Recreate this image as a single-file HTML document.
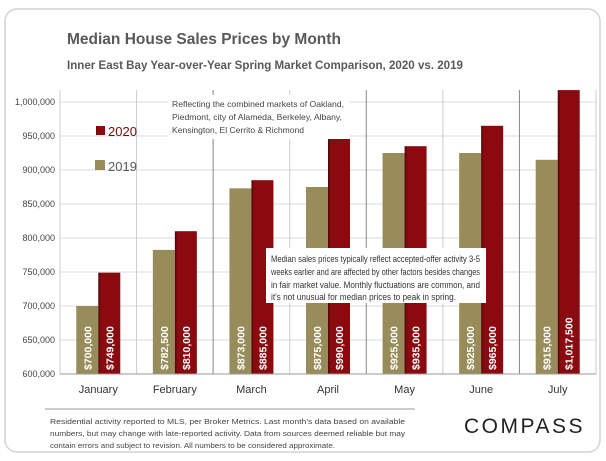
<!DOCTYPE html>
<html><head><meta charset="utf-8"><style>
body{margin:0;background:#fff;width:606px;height:456px;overflow:hidden;font-family:"Liberation Sans",sans-serif}
svg text{font-family:"Liberation Sans",sans-serif}
</style></head><body>
<svg id="c" width="606" height="456" xmlns="http://www.w3.org/2000/svg">
<defs>
<linearGradient id="g20" x1="0" x2="1"><stop offset="0" stop-color="#4a0508"/><stop offset="0.12" stop-color="#8a0a10"/><stop offset="1" stop-color="#8a0a10"/></linearGradient>
</defs>
<rect x="5" y="9" width="595" height="443" rx="12" fill="#fff" stroke="#d4d4d4" stroke-width="1.5"/>
<text x="67" y="44" font-size="15.5" font-weight="bold" fill="#595959">Median House Sales Prices by Month</text>
<text x="67" y="69" font-size="11.5" font-weight="bold" fill="#595959" textLength="396" lengthAdjust="spacingAndGlyphs">Inner East Bay Year-over-Year  Spring Market Comparison,  2020 vs. 2019</text>
<g id="grid"></g>
<g id="bars"></g>
<g id="axis"></g>
<g>
<rect x="96" y="126" width="9" height="9" fill="url(#g20)"/>
<text x="108" y="136" font-size="13" fill="#7a0a0e">2020</text>
<rect x="95" y="160" width="10" height="10" fill="#978c5a"/>
<text x="108" y="171" font-size="13" fill="#595959">2019</text>
</g>
<g font-size="8.5" fill="#444" lengthAdjust="spacingAndGlyphs">
<rect x="168" y="95" width="182" height="44" fill="#fff"/>
<text x="172" y="107" textLength="172" lengthAdjust="spacingAndGlyphs">Reflecting the combined markets of Oakland,</text>
<text x="172" y="120" textLength="170" lengthAdjust="spacingAndGlyphs">Piedmont, city of Alameda, Berkeley, Albany,</text>
<text x="172" y="133" textLength="132" lengthAdjust="spacingAndGlyphs">Kensington, El Cerrito &amp; Richmond</text>
</g>
<g font-size="9" fill="#333">
<rect x="266" y="248" width="220" height="55" fill="#fff"/>
<text x="271" y="262" textLength="209" lengthAdjust="spacingAndGlyphs">Median sales prices typically reflect accepted-offer activity 3-5</text>
<text x="271" y="275" textLength="209" lengthAdjust="spacingAndGlyphs">weeks earlier and are affected by other factors besides changes</text>
<text x="271" y="288" textLength="209" lengthAdjust="spacingAndGlyphs">in fair market value. Monthly fluctuations are common, and</text>
<text x="271" y="300" textLength="185" lengthAdjust="spacingAndGlyphs">it's not unusual for median prices to peak in spring.</text>
</g>
<line x1="45" y1="409" x2="415" y2="409" stroke="#999"/>
<g font-size="7.4" fill="#444">
<text x="50" y="424" textLength="355" lengthAdjust="spacingAndGlyphs">Residential activity reported to MLS, per Broker Metrics. Last month's data based on available</text>
<text x="50" y="436" textLength="355" lengthAdjust="spacingAndGlyphs">numbers, but may change with late-reported activity. Data from sources deemed reliable but may</text>
<text x="50" y="448" textLength="285" lengthAdjust="spacingAndGlyphs">contain errors and subject to revision. All numbers to be considered approximate.</text>
</g>
<text x="464" y="433" font-size="21" letter-spacing="2.5" fill="#222">COMPASS</text>
</svg>
<script>
const months=["January","February","March","April","May","June","July"];
const values2019=[700000,782500,873000,875000,925000,925000,915000];
const values2020=[749000,810000,885000,953000,935000,965000,1017500];
const labels2019=["$700,000","$782,500","$873,000","$875,000","$925,000","$925,000","$915,000"];
const labels2020=["$749,000","$810,000","$885,000","$990,000","$935,000","$965,000","$1,017,500"];
const yTicks=[600000,650000,700000,750000,800000,850000,900000,950000,1000000];
const NS="http://www.w3.org/2000/svg";
const X0=60,X1=596,Y0=374,Y1=102,VMIN=600000,VMAX=1000000;
const cw=(X1-X0)/months.length;
function y(v){return Y0-(v-VMIN)*(Y0-Y1)/(VMAX-VMIN);}
function xc(i){return X0+cw*i+cw/2;}
function mk(tag,attrs,parent){const e=document.createElementNS(NS,tag);for(const k in attrs)e.setAttribute(k,attrs[k]);parent.appendChild(e);return e;}
const grid=document.getElementById('grid'),bars=document.getElementById('bars'),axis=document.getElementById('axis');
yTicks.forEach(t=>{
  const l=mk('line',{x1:X0,x2:X1,y1:y(t),y2:y(t),stroke:'#d9d9d9'},grid);
  
  
  const tx=mk('text',{x:55,y:y(t)+3,'font-size':9,fill:'#444','text-anchor':'end'},axis);
  tx.textContent=t.toLocaleString('en-US');
  
  
});
for(let i=0;i<=months.length;i++){
  const x=X0+cw*i;
  const l=mk('line',{x1:x,x2:x,y1:90,y2:Y0,stroke:(i%2==0&&i>0&&i<7)?'#888':'#ccc'},grid);
  
  
}
const bw=22;
months.forEach((m,i)=>{
  const c=xc(i);
  const b1=mk('rect',{x:c-bw,y:y(values2019[i]),width:bw,height:Y0-y(values2019[i]),fill:'#978c5a'},bars);
  
  
  const b2=mk('rect',{x:c,y:y(values2020[i]),width:bw,height:Y0-y(values2020[i]),fill:'url(#g20)'},bars);
  
  
  [[labels2019[i],c-bw/2],[labels2020[i],c+bw/2]].forEach((p,j)=>{
    const t=mk('text',{x:0,y:0,'font-size':10.5,'font-weight':'bold',fill:'#fff',transform:'translate('+(p[1]+4)+','+(Y0-4)+') rotate(-90)'},bars);
    t.textContent=p[0];
    
    
  });
  const ml=mk('text',{x:c,y:393,'font-size':11,fill:'#333','text-anchor':'middle'},axis);
  ml.textContent=m;
  
  
});
const ax=mk('line',{x1:X0,x2:X1,y1:Y0,y2:Y0,stroke:'#999'},axis);


</script>
</body></html>
